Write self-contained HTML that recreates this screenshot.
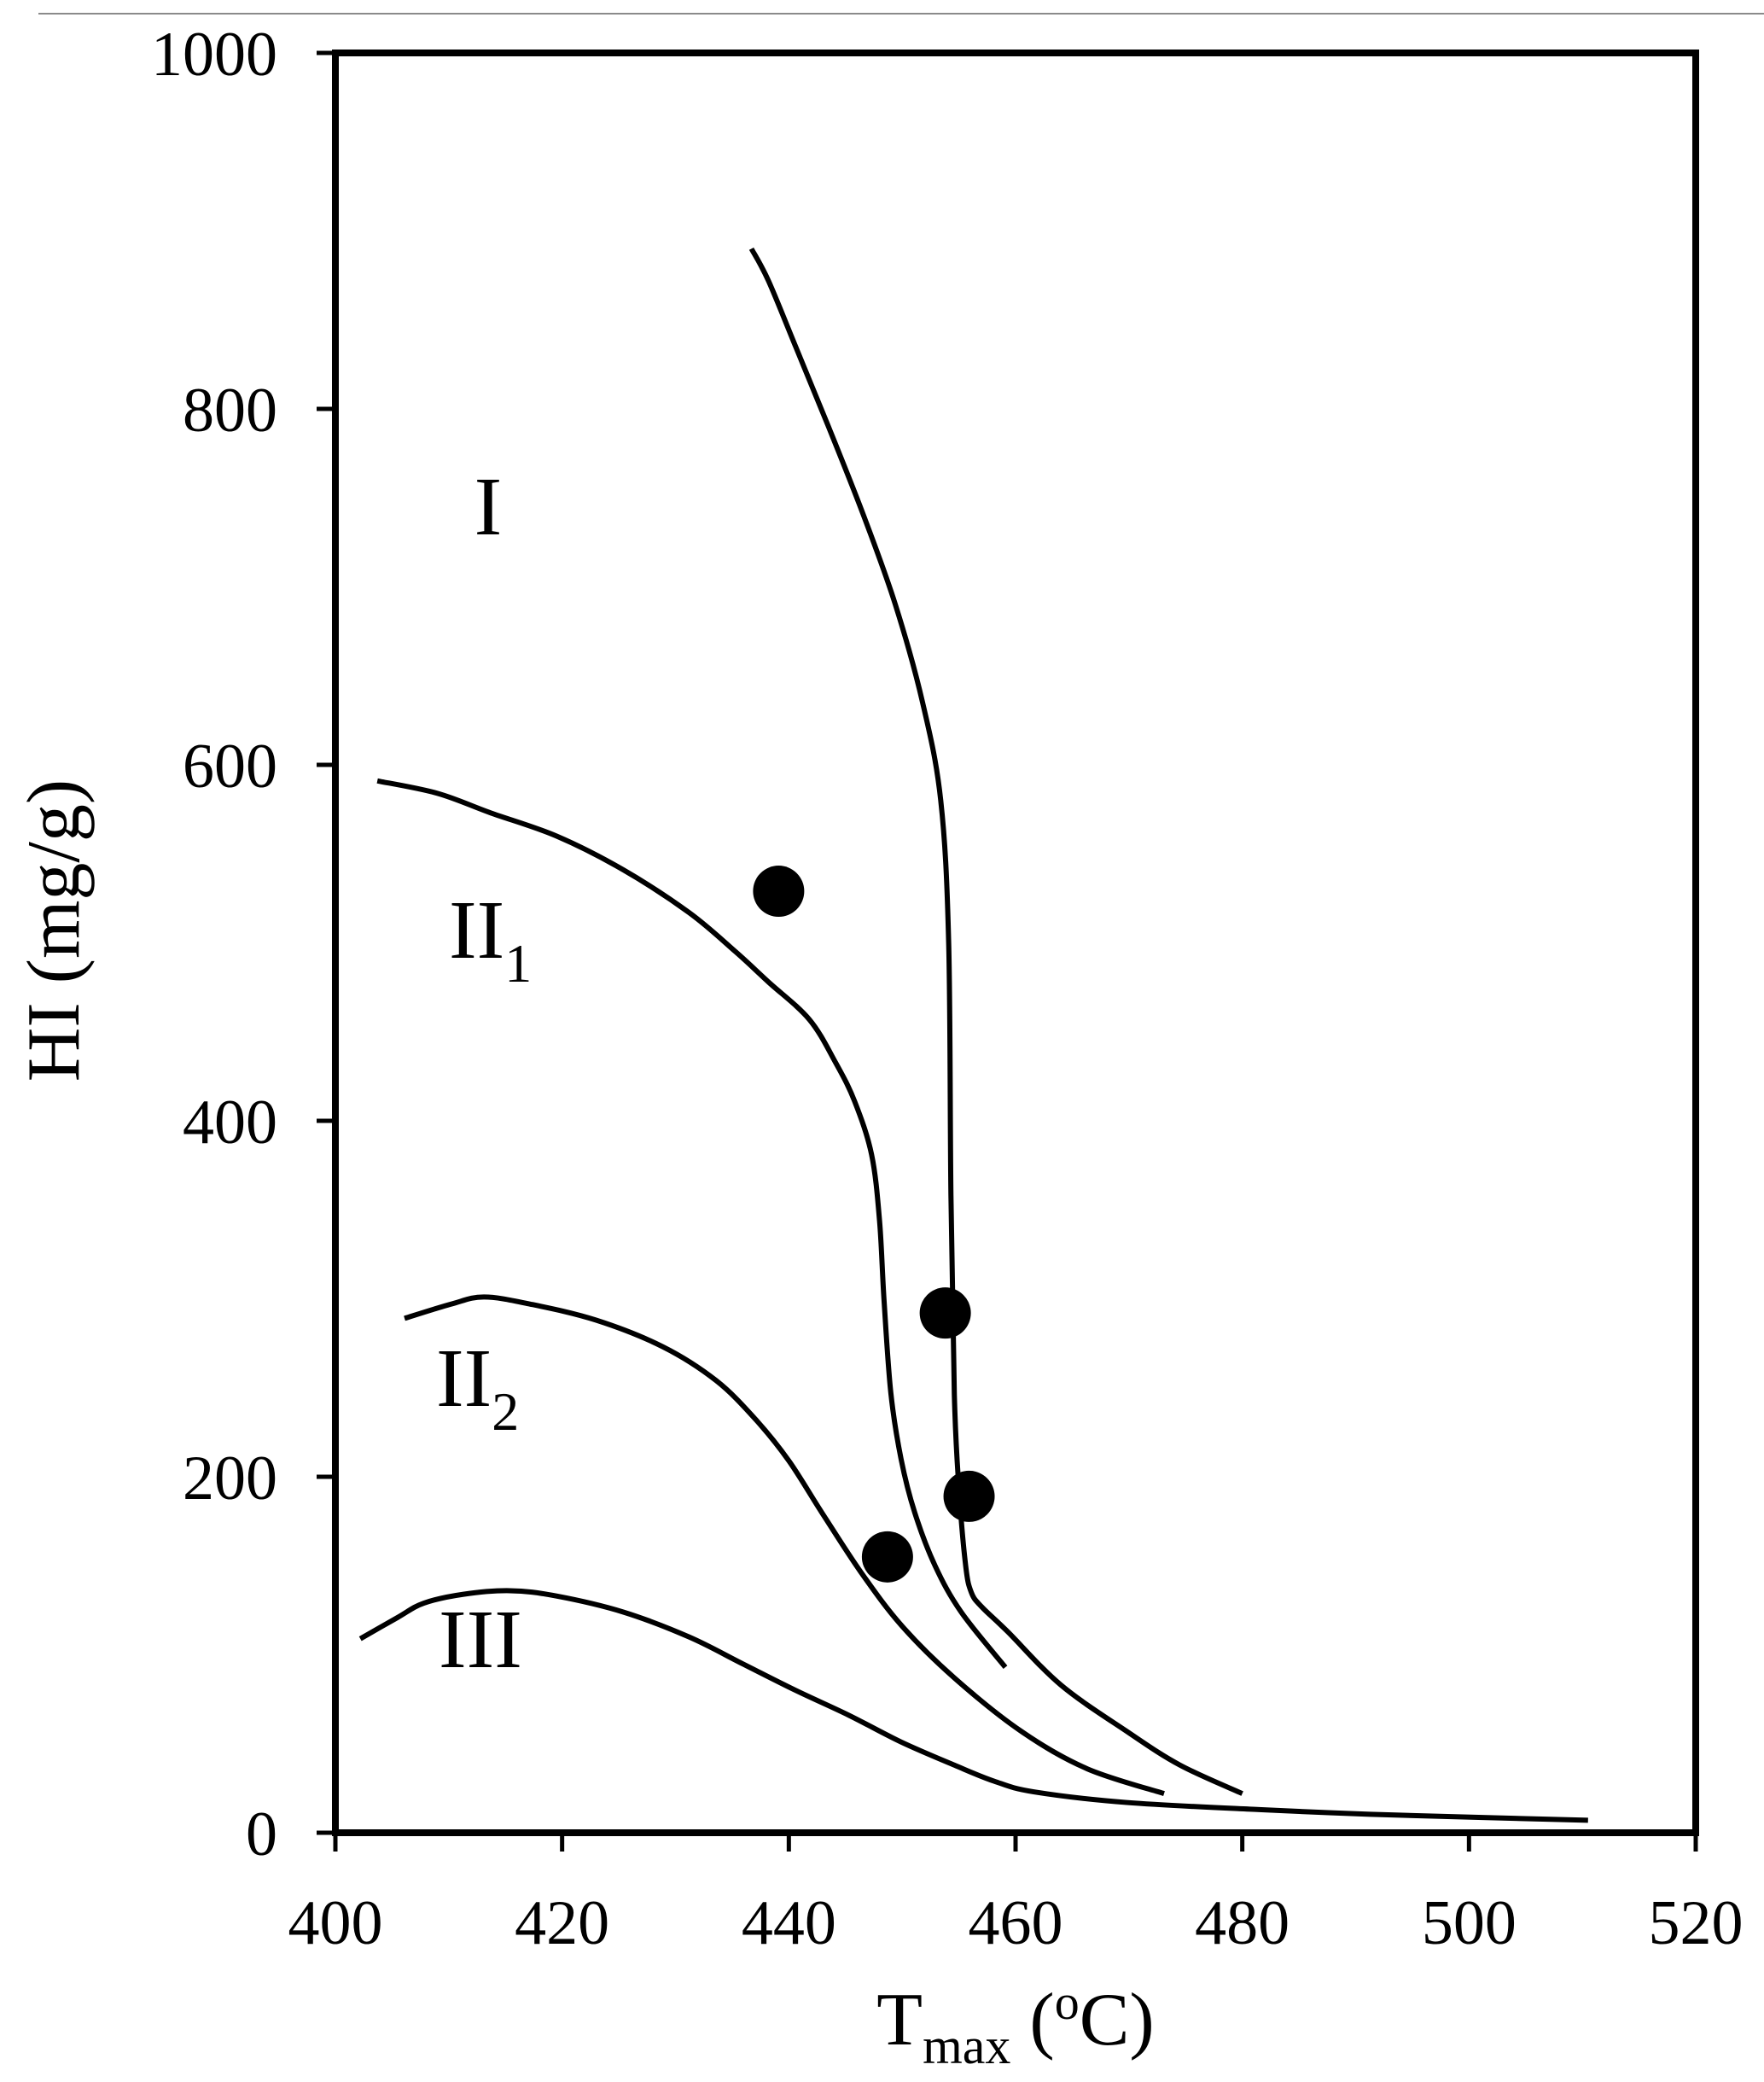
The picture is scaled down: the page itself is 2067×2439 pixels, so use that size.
<!DOCTYPE html>
<html><head><meta charset="utf-8"><style>
html,body{margin:0;padding:0;background:#fff}
svg{display:block}
text{font-family:"Liberation Serif","Times New Roman",serif;fill:#000}
</style></head><body>
<svg id="chart" width="2067" height="2439" viewBox="0 0 2067 2439" xmlns="http://www.w3.org/2000/svg">
<line x1="45" y1="16" x2="2067" y2="16" stroke="#8a8a8a" stroke-width="2"/>
<g id="axes"></g>
<g id="curves"></g>
<g id="points"></g>
<text x="572" y="626" font-size="98" text-anchor="middle">I</text>
<text x="526" y="1122" font-size="98">II<tspan font-size="64" dy="28">1</tspan></text>
<text x="511" y="1647" font-size="98">II<tspan font-size="64" dy="28">2</tspan></text>
<text x="514" y="1953" font-size="98">III</text>
<text x="1190" y="2395" font-size="88" text-anchor="middle">T<tspan font-size="60" dy="22">max</tspan><tspan dy="-22"> (</tspan><tspan font-size="58" dy="-30">o</tspan><tspan dy="30">C)</tspan></text>
<text transform="translate(92,1090) rotate(-90)" font-size="88" text-anchor="middle">HI (mg/g)</text>
</svg>
<script>
const xTicks=[400,420,440,460,480,500,520];
const yTicks=[0,200,400,600,800,1000];
const curveI_x=[436.7,438.2,440.6,443.5,446.6,449.4,451.8,453.4,454.1,454.3,454.6,455.0,455.6,456.1,457,459.3,464,469.8,474.5,480];
const curveI_y=[890,872,835,790,740,690,635,580,500,358,246,194,150,135,127,113,83,57,38,22];
const curveII1_x=[403.7,409,413.7,419.5,425.4,431.2,435.3,438.2,441.8,444.1,445.8,447.3,448,448.4,449,449.9,451.1,452.9,455.2,459.1];
const curveII1_y=[591,584,573,560,541,517,495,478,457,433,411,381,344,299,247,210,180,150,124,93];
const curveII2_x=[406.1,410.2,413.1,417.2,423,428.9,433.6,437.1,440,442.9,446.4,450,454.6,460.5,466.3,473.1];
const curveII2_y=[289,297,301,297,288,273,254,232,209,180,146,116,87,57,36,22];
const curveIII_x=[402.2,405.5,407.8,411.3,415.4,419.5,425.4,431.2,435.9,440.6,445.3,449.9,454.6,458.1,461.6,469.8,481.5,493.2,510.5];
const curveIII_y=[109,121,129,134,136,133,124,110,95,80,66,51,38,29,23,17,13,10,7];
const sampleT=[439.1,453.8,455.9,448.7];
const sampleHI=[529,292,189,155];

const NS="http://www.w3.org/2000/svg";
const X0=393,X1=1987,Y0=2147,Y1=62;
function sx(v){return X0+(v-400)/(520-400)*(X1-X0);}
function sy(v){return Y0-(v-0)/(1000-0)*(Y0-Y1);}
function mk(tag,attrs,parent){const e=document.createElementNS(NS,tag);for(const k in attrs)e.setAttribute(k,attrs[k]);parent.appendChild(e);return e;}
const axes=document.getElementById('axes');
let e;
e=mk('rect',{x:X0,y:Y1,width:X1-X0,height:Y0-Y1,fill:'none',stroke:'#000','stroke-width':8},axes);


xTicks.forEach(t=>{
  e=mk('line',{x1:sx(t),x2:sx(t),y1:Y0,y2:Y0+22,stroke:'#000','stroke-width':5},axes);
  
  
  e=mk('text',{x:sx(t),y:2277,'font-size':74,'text-anchor':'middle'},axes);
  e.textContent=t;
  
  
});
yTicks.forEach(t=>{
  e=mk('line',{x1:X0-22,x2:X0,y1:sy(t),y2:sy(t),stroke:'#000','stroke-width':5},axes);
  
  
  e=mk('text',{x:325,y:sy(t)+26,'font-size':74,'text-anchor':'end'},axes);
  e.textContent=t;
  
  
});
function pathFor(xs,ys){
  const p=xs.map((x,i)=>[sx(x),sy(ys[i])]);
  let d='M'+p[0][0]+','+p[0][1];
  for(let i=0;i<p.length-1;i++){
    const a=p[Math.max(i-1,0)],b=p[i],c=p[i+1],n=p[Math.min(i+2,p.length-1)];
    const c1=[b[0]+(c[0]-a[0])/6,b[1]+(c[1]-a[1])/6],c2=[c[0]-(n[0]-b[0])/6,c[1]-(n[1]-b[1])/6];
    d+=' C'+c1[0]+','+c1[1]+' '+c2[0]+','+c2[1]+' '+c[0]+','+c[1];
  }
  return d;
}
const cg=document.getElementById('curves');
e=mk('path',{d:pathFor(curveI_x,curveI_y),fill:'none',stroke:'#000','stroke-width':6,'stroke-linejoin':'round'},cg);


e=mk('path',{d:pathFor(curveII1_x,curveII1_y),fill:'none',stroke:'#000','stroke-width':6,'stroke-linejoin':'round'},cg);


e=mk('path',{d:pathFor(curveII2_x,curveII2_y),fill:'none',stroke:'#000','stroke-width':6,'stroke-linejoin':'round'},cg);


e=mk('path',{d:pathFor(curveIII_x,curveIII_y),fill:'none',stroke:'#000','stroke-width':6,'stroke-linejoin':'round'},cg);


const pg=document.getElementById('points');
sampleT.forEach((t,i)=>{
  e=mk('circle',{cx:sx(t),cy:sy(sampleHI[i]),r:30,fill:'#000'},pg);
  
  
});
</script>
</body></html>
